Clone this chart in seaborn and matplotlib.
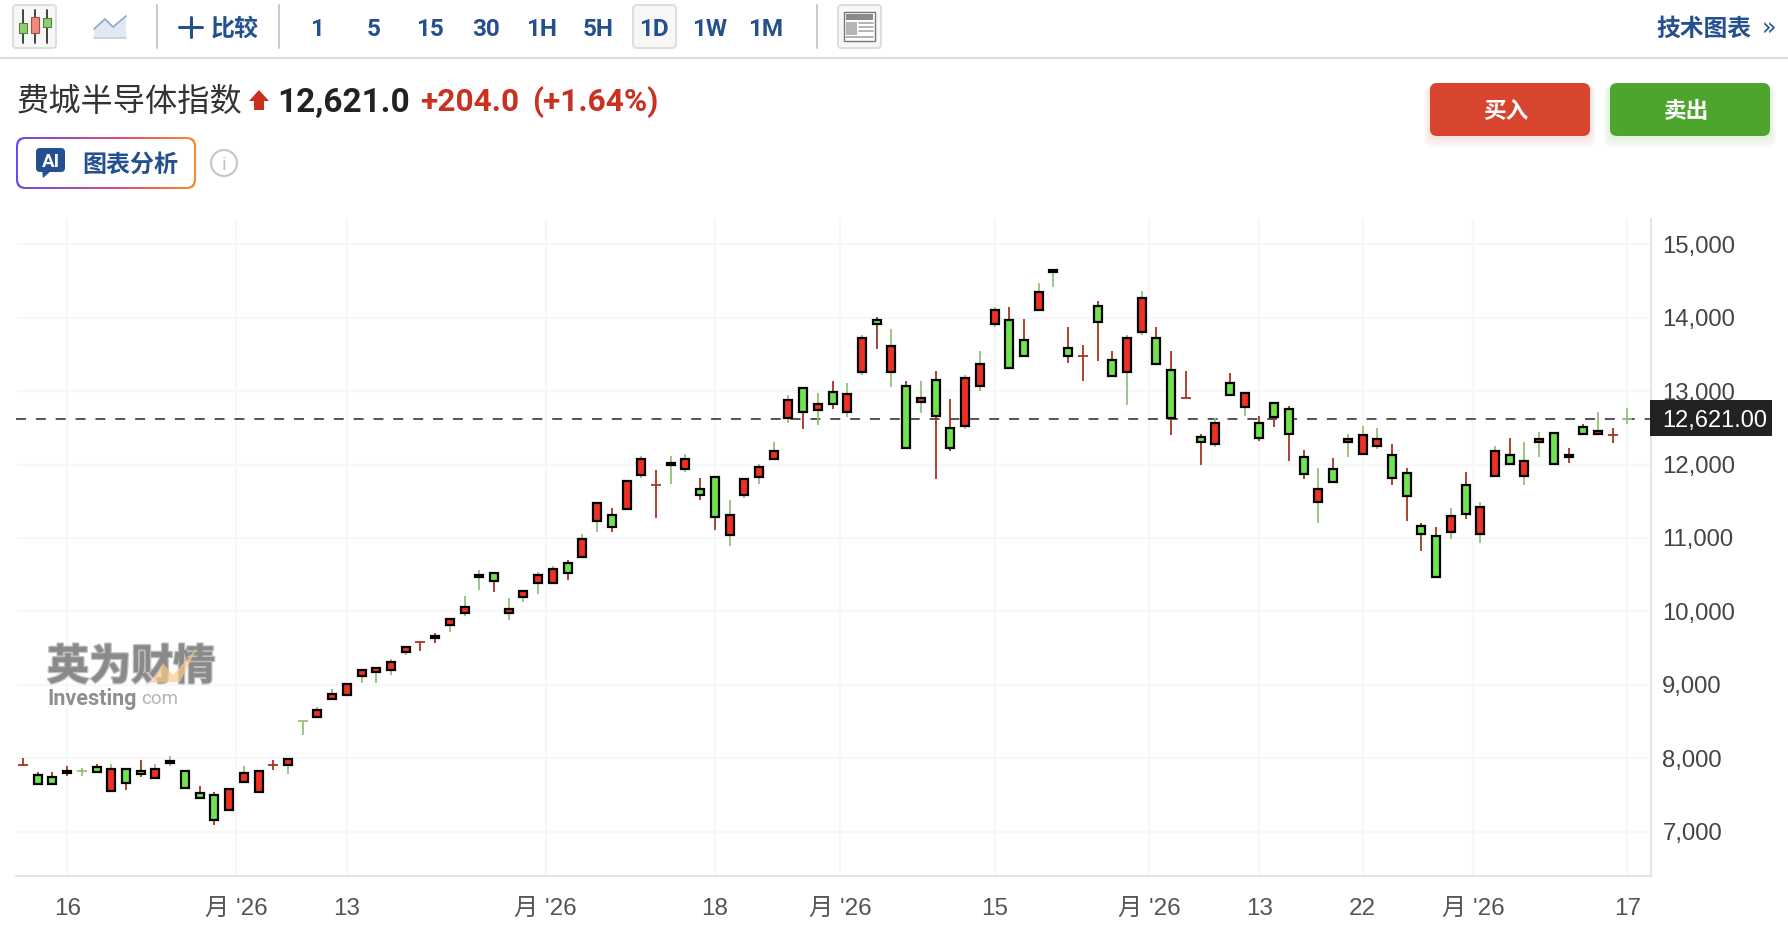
import numpy as np
import pandas as pd
import seaborn as sns
import matplotlib
matplotlib.use("Agg")
import matplotlib.pyplot as plt
import matplotlib.patheffects as pe
from matplotlib.patches import FancyBboxPatch, Rectangle, Circle, Polygon

# candles, oldest first
opens = [7909, 7771, 7744, 7829, 7820, 7879, 7560, 7856, 7825, 7726,
         7937, 7825, 7529, 7502, 7295, 7672, 7538, 7916, 7915, 8511,
         8561, 8804, 8858, 9127, 9181, 9208, 9450, 9590, 9661, 9818,
         9982, 10468, 10518, 9982, 10200, 10391, 10391, 10654, 10745, 11236,
         11309, 11400, 11863, 11723, 11995, 11945, 11663, 11827, 11045, 11591,
         11836, 12082, 12636, 13036, 12745, 12982, 12718, 13263, 13963, 13263,
         13063, 12854, 13145, 12491, 12527, 13073, 13918, 13963, 13691, 14109,
         14622, 13582, 13478, 14154, 13418, 13263, 13809, 13718, 13282, 12905,
         12374, 12275, 13104, 12788, 12563, 12834, 12752, 12104, 11491, 11942,
         12302, 12140, 12248, 12131, 11887, 11158, 11023, 11086, 11725, 11059,
         11842, 12131, 11842, 12302, 12428, 12135, 12509, 12410, 12407, 12621]
highs = [8000, 7811, 7811, 7897, 7874, 7919, 7919, 7856, 7973, 7919,
         8031, 7825, 7627, 7542, 7582, 7892, 7825, 7973, 7987, 8513,
         8700, 8943, 9010, 9199, 9226, 9347, 9522, 9590, 9702, 9891,
         10204, 10563, 10518, 10177, 10273, 10532, 10613, 10695, 11050, 11472,
         11404, 11772, 12113, 11922, 12113, 12141, 11813, 11827, 11513, 11800,
         12004, 12304, 12941, 13036, 12968, 13132, 13104, 13759, 14004, 13841,
         13132, 13132, 13268, 12886, 13213, 13541, 14141, 14141, 13977, 14468,
         14663, 13868, 13622, 14222, 13541, 13759, 14359, 13868, 13541, 13268,
         12415, 12631, 13253, 12969, 12658, 12834, 12793, 12198, 11955, 12090,
         12415, 12523, 12496, 12279, 11955, 11198, 11144, 11414, 11901, 11496,
         12252, 12361, 12306, 12442, 12428, 12225, 12550, 12712, 12496, 12766]
lows = [7909, 7645, 7645, 7762, 7762, 7807, 7560, 7573, 7740, 7726,
        7897, 7591, 7457, 7089, 7295, 7672, 7538, 7847, 7784, 8323,
        8561, 8804, 8858, 9028, 9028, 9136, 9410, 9455, 9567, 9723,
        9941, 10291, 10268, 9886, 10132, 10241, 10391, 10432, 10745, 11086,
        11086, 11400, 11822, 11277, 11741, 11904, 11522, 11113, 10895, 11550,
        11741, 12082, 12568, 12486, 12541, 12759, 12650, 13222, 13577, 13059,
        12227, 12704, 11804, 12186, 12486, 13004, 13877, 13318, 13482, 14109,
        14423, 13386, 13141, 13413, 13209, 12813, 13768, 13372, 12404, 12904,
        11991, 12234, 12951, 12667, 12315, 12505, 12045, 11802, 11207, 11761,
        12099, 12140, 12207, 11721, 11234, 10829, 10464, 10991, 11261, 10937,
        11842, 12005, 11721, 12099, 12005, 12018, 12410, 12410, 12288, 12559]
closes = [7907, 7645, 7645, 7802, 7822, 7807, 7856, 7668, 7780, 7852,
          7964, 7591, 7457, 7160, 7582, 7798, 7825, 7914, 7987, 8513,
          8660, 8876, 9010, 9199, 9226, 9307, 9522, 9588, 9634, 9891,
          10054, 10495, 10418, 10027, 10273, 10491, 10573, 10527, 10982, 11472,
          11154, 11772, 12072, 11721, 12022, 12072, 11591, 11291, 11309, 11800,
          11963, 12182, 12873, 12718, 12818, 12827, 12954, 13718, 13918, 13609,
          12227, 12900, 12664, 12227, 13173, 13363, 14100, 13318, 13482, 14345,
          14650, 13482, 13476, 13945, 13209, 13718, 14263, 13372, 12636, 12903,
          12302, 12563, 12951, 12969, 12356, 12653, 12410, 11869, 11671, 11761,
          12347, 12401, 12347, 11815, 11572, 11059, 10464, 11293, 11329, 11428,
          12185, 12005, 12050, 12347, 12005, 12108, 12410, 12455, 12405, 12623]

# tick positions in candle numbers, with their labels
x_ticks = {3: "16", 14.5: "月 '26", 22: "13", 35.5: "月 '26", 47: "18", 55.5: "月 '26",
           66: "15", 76.5: "月 '26", 84: "13", 91: "22", 98.5: "月 '26", 109: "17"}
y_ticks = [7000, 8000, 9000, 10000, 11000, 12000, 13000, 14000, 15000]
last_price = 12621

W, H = 1788, 938
RED = "#ee3124"
GREEN = "#6fe44f"
WICK_UP = "#93c27a"
WICK_DOWN = "#a8341e"
BLUE = "#25508f"
CJK = ["Noto Sans CJK SC", "DejaVu Sans"]
LATIN = ["Liberation Sans", "Noto Sans CJK SC"]

sns.set_style("white")
plt.rcParams["font.family"] = ["Noto Sans CJK SC", "DejaVu Sans"]

df = pd.DataFrame({"open": opens, "high": highs, "low": lows, "close": closes})
df["x"] = df.index
df["up"] = df["close"] > df["open"]
df["size"] = (df["close"] - df["open"]).abs()
df["flat"] = df["size"] <= 5

fig = plt.figure(figsize=(W / 100, H / 100), dpi=100, facecolor="white")

# price panel, placed in page pixels
left, right, top, bottom = 16, 1651, 219, 876
ax = fig.add_axes([left / W, 1 - bottom / H, (right - left) / W, (bottom - top) / H])
ax.set_xlim((left - 23) / 14.72, (right - 23) / 14.72)
ax.set_ylim(7000 - (bottom - 831.7) / 0.07343, 7000 + (831.7 - top) / 0.07343)

for g in x_ticks:
    ax.axvline(g, color="#f6f7f9", lw=1.6, zorder=0)
for v in y_ticks:
    ax.axhline(v, xmin=2 / (right - left), color="#f7f7f9", lw=1.6, zorder=0)

# last price line
sns.lineplot(x=[ax.get_xlim()[0], ax.get_xlim()[1]], y=[last_price, last_price], ax=ax,
             color="#464646", lw=1.3, dashes=(5.5, 5.5), zorder=1, legend=False)

# wicks then bodies
wick_colors = [WICK_UP if u else WICK_DOWN for u in df["up"]]
ax.vlines(df["x"], df["low"], df["high"], colors=wick_colors, lw=1.3, zorder=2)

solid = df[~df["flat"]]
body_colors = ["black" if s < 30 else (RED if u else GREEN) for s, u in zip(solid["size"], solid["up"])]
ax.bar(solid["x"], solid["size"], bottom=solid[["open", "close"]].min(axis=1),
       width=8.0 / 14.72, color=body_colors, edgecolor="black", linewidth=1.6, zorder=3)

flat = df[df["flat"]]
ax.hlines(flat["close"], flat["x"] - 0.34, flat["x"] + 0.34,
          colors=[WICK_UP if u else WICK_DOWN for u in flat["up"]], lw=1.3, zorder=3)

# axes and ticks
ax.set_xticks(list(x_ticks.keys()))
ax.set_xticklabels(list(x_ticks.values()))
ax.set_yticks(y_ticks)
ax.set_yticklabels([f"{v:,}" for v in y_ticks])
ax.yaxis.tick_right()
ax.tick_params(axis="x", length=7.5, width=1.4, color="#e6e7ec", labelcolor="#555555",
               labelsize=17.5, pad=8)
ax.tick_params(axis="y", length=4.5, width=1.3, color="#eceef2", labelcolor="#444444",
               labelsize=17.2, pad=3.6)
for lab in ax.get_xticklabels() + ax.get_yticklabels():
    lab.set_family(LATIN)
sns.despine(ax=ax, left=True, top=True, right=False, bottom=False)
ax.spines["bottom"].set_color("#e2e3e8")
ax.spines["right"].set_color("#e2e5eb")
ax.spines["bottom"].set_linewidth(1.3)
ax.spines["right"].set_linewidth(1.5)

# page overlay in pixels for the toolbar and the header
ui = fig.add_axes([0, 0, 1, 1], zorder=5)
ui.set_xlim(0, W)
ui.set_ylim(H, 0)
ui.axis("off")
ui.patch.set_alpha(0)


def box(x0, y0, x1, y1, r=4, fc="white", ec="none", lw=1.0, z=2, alpha=1.0):
    p = FancyBboxPatch((x0 + r, y0 + r), x1 - x0 - 2 * r, y1 - y0 - 2 * r,
                       boxstyle=f"round,pad={r},rounding_size={r}", fc=fc, ec=ec, lw=lw,
                       zorder=z, alpha=alpha, mutation_aspect=1)
    ui.add_patch(p)
    return p


def label(x, y, s, size, color, weight="normal", family=None, ha="center", z=4, alpha=1.0):
    return ui.text(x, y, s, fontsize=size, color=color, fontweight=weight, ha=ha, va="center_baseline",
                   family=family or CJK, zorder=z, alpha=alpha)


# toolbar
ui.plot([0, W], [58, 58], color="#dcdcdc", lw=1.5)
for sx in [157, 279, 817]:
    ui.plot([sx, sx], [5, 48], color="#c9c9c9", lw=1.4)

box(13, 5, 56, 48, r=3, fc="#f7f7f7", ec="#dedede", lw=1.4)
for wx in [23, 34.5, 46.5]:
    ui.plot([wx, wx], [10, 43], color="#333333", lw=1.3, zorder=3)
ui.add_patch(Rectangle((19, 23), 8, 10, fc="#8fd06f", ec="#55803f", lw=0.8, zorder=4))
ui.add_patch(Rectangle((31, 17), 7.5, 16, fc="#f08a80", ec="#a0524a", lw=0.8, zorder=4))
ui.add_patch(Rectangle((43, 18), 7.5, 9, fc="#8fd06f", ec="#55803f", lw=0.8, zorder=4))

ui.add_patch(Polygon([(94, 38), (94, 29), (105, 19), (113, 27), (126, 16), (126, 38)],
                     fc="#e2e8f3", ec="none", zorder=3))
ui.plot([94, 105, 113, 126], [29, 19, 27, 16], color="#90a7c9", lw=1.2, zorder=4)
ui.plot([94, 126], [38, 38], color="#c5cede", lw=1.2, zorder=4)

ui.plot([179, 202], [27, 27], color=BLUE, lw=2.2, zorder=4)
ui.plot([190.5, 190.5], [17, 37], color=BLUE, lw=2.2, zorder=4)
label(234.5, 26.5, "比较", 17.3, BLUE, "bold")

box(633, 5, 676, 48, r=4, fc="#f7f7f7", ec="#dedede", lw=1.4)
periods = ["1", "5", "15", "30", "1H", "5H", "1D", "1W", "1M"]
period_x = [317.5, 374, 430, 486, 542, 598, 654, 710, 766]
for px, s in zip(period_x, periods):
    label(px, 27, s, 17.5, BLUE, "bold", ["Roboto", "DejaVu Sans"])

box(838, 5, 881, 48, r=3, fc="#f7f7f7", ec="#dedede", lw=1.4)
ui.add_patch(Rectangle((844, 12), 31, 29, fc="white", ec="#777777", lw=1.0, zorder=3))
ui.add_patch(Rectangle((846, 14), 27, 6, fc="#8a8a8a", ec="none", zorder=4))
ui.add_patch(Rectangle((846, 22), 11, 13, fc="#b5b5b5", ec="none", zorder=4))
for ly in [23, 27, 31, 37]:
    ui.plot([859 if ly < 35 else 846, 873], [ly, ly], color="#a5a5a5", lw=1.2, zorder=4)

label(1704, 26, "技术图表", 17.1, BLUE, "bold")
label(1769, 26, "»", 17, BLUE, "normal", ["DejaVu Sans"])

# quote line
label(17, 98, "费城半导体指数", 23.2, "#333333", ha="left")
ui.add_patch(Polygon([(259, 90), (269, 101), (264, 101), (264, 110), (254, 110), (254, 101), (249, 101)],
                     fc="#c8311f", ec="none", zorder=4))
label(277.5, 99, "12,621.0", 24, "#222222", "bold", ["Roboto", "DejaVu Sans"], ha="left")
label(420.5, 99, "+204.0", 22.8, "#c83220", "bold", ["Roboto", "DejaVu Sans"], ha="left")
label(532, 99, "(+1.64%)", 22.8, "#c83220", "bold", ["Roboto", "DejaVu Sans"], ha="left")

# buy and sell buttons, soft shadow first
for i in range(6, 0, -1):
    box(1430 - i, 86, 1590 + i, 136 + 2 * i, r=7, fc="#d8452f", z=1, alpha=0.025)
    box(1610 - i, 86, 1770 + i, 136 + 2 * i, r=7, fc="#4ea52e", z=1, alpha=0.025)
box(1430, 83, 1590, 136, r=7, fc="#d8452f")
box(1610, 83, 1770, 136, r=7, fc="#4ea52e")
label(1506, 109, "买入", 16.3, "white", "bold")
label(1686, 109, "卖出", 16.3, "white", "bold")

# AI badge with gradient border
ramp = np.linspace(0, 1, 200)
stops = np.array([[0.40, 0.30, 0.95], [0.90, 0.30, 0.45], [0.96, 0.55, 0.16]])
grad = np.stack([np.interp(ramp, [0, 0.6, 1], stops[:, c]) for c in range(3)], axis=-1)[None, :, :]
edge = box(16, 137, 196, 189, r=9, fc="none", z=2)
im = ui.imshow(grad, extent=(16, 196, 189, 137), aspect="auto", zorder=2)
im.set_clip_path(edge)
ui.set_xlim(0, W)
ui.set_ylim(H, 0)
box(18, 139, 194, 187, r=8, fc="white", z=3)
box(36, 148, 65, 172, r=4, fc=BLUE, z=4)
ui.add_patch(Polygon([(42, 170), (52, 170), (43, 178)], fc=BLUE, ec="none", zorder=4))
label(50.5, 160, "AI", 13.5, "white", "bold", ["Roboto", "DejaVu Sans"], z=5)
label(130, 162, "图表分析", 17.3, BLUE, "bold")
ui.add_patch(Circle((224, 163), 13, fc="white", ec="#c8c8c8", lw=1.6, zorder=4))
label(224, 163.5, "i", 14, "#c0c0c0", "normal", ["Roboto", "DejaVu Sans"])

# watermark
mark = label(47, 663, "英为财情", 30.3, "#8a8a8a", "bold", ha="left", z=1)
mark.set_path_effects([pe.withStroke(linewidth=2, foreground="#8a8a8a", alpha=0.55)])
ui.add_patch(Polygon([(150, 683), (163, 663), (173, 675), (197, 648), (180, 682)], fc="#f8c98a", ec="none",
                     alpha=0.7, zorder=1.5))
label(47, 696, "Investing", 15.5, "#8f8f8f", "bold", ["Roboto", "DejaVu Sans"], ha="left", z=1)
label(141, 696.5, "com", 13.5, "#b5b5b5", "normal", ["Roboto", "DejaVu Sans"], ha="left", z=1)

# last price tag on the axis
ui.add_patch(Rectangle((1650, 400), 122, 36, fc="#222222", ec="none", zorder=6))
label(1662, 419, f"{last_price:,}.00", 17, "white", "normal", ["Liberation Sans", "DejaVu Sans"], ha="left", z=7)

fig.savefig("out.png", dpi=100, facecolor="white")
